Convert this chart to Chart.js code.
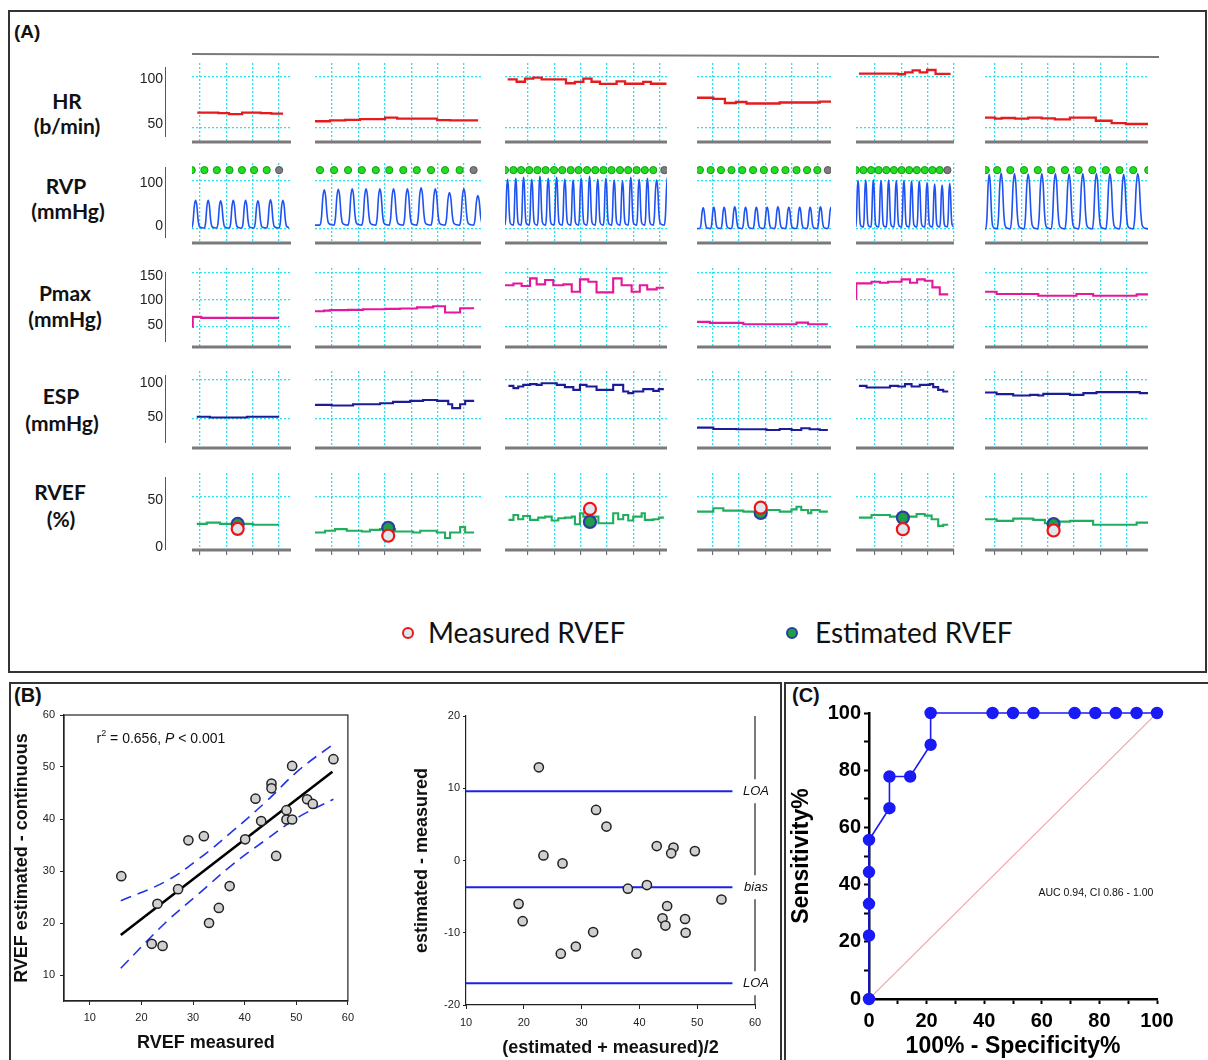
<!DOCTYPE html>
<html>
<head>
<meta charset="utf-8">
<script src="https://cdn.jsdelivr.net/npm/chart.js@4.4.1/dist/chart.umd.min.js"></script>
<style>
  body { margin: 0; background: #fff; width: 1208px; height: 1060px; position: relative; overflow: hidden; font-family: 'Liberation Sans', Arial, sans-serif; }
  canvas { position: absolute; }
  .frame { position: absolute; border: 2px solid #333; box-sizing: border-box; }
  .rowlbl { position: absolute; transform: translate(-50%, -50%); font-family: Lato, 'Open Sans', sans-serif; font-weight: bold; font-size: 21px; color: #111; white-space: nowrap; }
  .panel { position: absolute; font-weight: bold; font-size: 20px; color: #111; }
  .legtxt { position: absolute; transform: translateY(-50%); font-family: Lato, 'Open Sans', sans-serif; font-size: 28px; color: #111; white-space: nowrap; }
  .legdot { position: absolute; width: 8px; height: 8px; border-radius: 50%; border: 2.5px solid; }
</style>
</head>
<body>
<div class="frame" style="left:8px;top:10px;width:1199px;height:663px"></div>
<div class="frame" style="left:9px;top:682px;width:773px;height:400px"></div>
<div class="frame" style="left:784px;top:682px;width:426px;height:400px"></div>
<div style="position:absolute;left:192px;top:53px;width:967px;height:2px;background:#7a7a7a;transform-origin:0 0;transform:rotate(0.18deg)"></div>

<div class="panel" style="left:14px;top:21px;font-size:19px">(A)</div>
<div class="panel" style="left:14px;top:684px">(B)</div>
<div class="panel" style="left:792px;top:684px">(C)</div>

<div class="rowlbl" style="left:67px;top:100px">HR</div>
<div class="rowlbl" style="left:67px;top:125px">(b/min)</div>
<div class="rowlbl" style="left:66px;top:185px">RVP</div>
<div class="rowlbl" style="left:68px;top:210px">(mmHg)</div>
<div class="rowlbl" style="left:65px;top:292px">Pmax</div>
<div class="rowlbl" style="left:65px;top:318px">(mmHg)</div>
<div class="rowlbl" style="left:61px;top:395px">ESP</div>
<div class="rowlbl" style="left:62px;top:422px">(mmHg)</div>
<div class="rowlbl" style="left:60px;top:491px">RVEF</div>
<div class="rowlbl" style="left:61px;top:518px">(%)</div>

<div class="legdot" style="left:402px;top:627px;border-color:#ee1414;background:#dde8ef"></div>
<div class="legtxt" style="left:428px;top:632px">Measured RVEF</div>
<div class="legdot" style="left:786px;top:627px;border-color:#2b3f9e;background:#1e9e46"></div>
<div class="legtxt" style="left:815px;top:632px">Estimated RVEF</div>

<script>
// ---------- panel A : continuous monitoring traces ----------
// time axis of each column (grid every 1 unit)
const xRanges = [[-0.3, 3.45], [-0.64, 5.64], [-0.87, 5.27], [-0.6, 4.49], [-0.72, 3.0], [-0.38, 5.8]];

// HR (b/min) [time, value]
const hr1 = [[-0.1,64.5],[0.7,64],[1.1,63],[1.6,64.5],[2.3,64],[2.7,63.5],[3.15,63.5]];
const hr2 = [[-0.64,56],[-0.07,56.8],[0.5,57.3],[1.06,58],[2.01,59.5],[2.47,58.5],[3.98,57.2],[4.47,56.8],[5.53,56.8]];
const hr3 = [[-0.77,97.4],[-0.43,95],[-0.11,98],[0.2,99],[0.52,97.4],[1.44,93.5],[1.78,94.8],[2.1,98],[2.41,95],[2.73,92.8],[3.36,95.3],[3.68,93],[4.37,94.8],[4.66,93],[5.25,93]];
const hr4 = [[-0.6,79.2],[0.02,78],[0.46,74],[0.88,75],[1.28,73.5],[2.54,74.5],[4.06,75.3],[4.53,75.3]];
const hr5 = [[-0.61,103],[0.88,102.4],[1.14,104.3],[1.43,106.3],[1.7,104.3],[1.98,106.6],[2.3,102.7],[2.87,102.7]];
const hr6 = [[-0.38,59.5],[0,58.5],[0.25,59.2],[0.76,58.5],[1.26,59.5],[1.77,58.9],[2.27,57.9],[2.84,59.5],[3.82,56.5],[4.42,54.2],[4.96,53.3],[5.84,53.3]];

// RVP beats: onset times (green markers) and systolic peaks
const rvpOnsets1 = [-0.31,0.17,0.64,1.12,1.59,2.05,2.53,3.0];
const rvpPeaks1  = [60,60,59,60,60,59,61,60];
const rvpOnsets2 = [-0.45,0.08,0.61,1.13,1.66,2.17,2.7,3.21,3.75,4.28,4.83,5.36];
const rvpPeaks2  = [82,83,84,84,84,84,84,86,84,76,84,70];
const rvpOnsets3 = [-0.87,-0.55,-0.26,0.05,0.36,0.67,0.99,1.3,1.62,1.92,2.24,2.55,2.86,3.17,3.49,3.8,4.12,4.43,4.75,5.17];
const rvpPeaks3  = [104,106,108,104,110,106,108,104,102,106,110,104,106,102,100,108,104,106,102,110];
const rvpOnsets4 = [-0.49,-0.08,0.31,0.71,1.12,1.53,1.94,2.35,2.76,3.18,3.58,3.97,4.37];
const rvpPeaks4  = [44,45,45,46,45,45,45,46,45,45,45,46,45];
const rvpOnsets5 = [-0.73,-0.44,-0.15,0.14,0.43,0.72,1.01,1.3,1.59,1.89,2.18,2.46,2.75];
const rvpPeaks5  = [101,102,102,101,102,101,101,100,100,97,94,92,95];
const rvpOnsets6 = [-0.35,0.08,0.58,1.1,1.62,2.13,2.65,3.17,3.69,4.2,4.72,5.24,5.81];
const rvpPeaks6  = [114,117,116,115,116,116,115,116,116,116,114,116,116];
const rvpBase = [2, 8, 8, 1, 4, 0];
const rvpLastGray = [true, true, true, true, true, false];
// one beat of the pressure wave: [fraction of beat, fraction of pulse]
const rvpShape = [[0,0],[0.1,0.2],[0.2,0.78],[0.3,1],[0.4,0.82],[0.5,0.3],[0.6,0.06],[0.8,0.01]];

// Pmax (mmHg)
const pm1 = [[-0.29,50],[-0.27,68.5],[0.05,66.7],[3.0,66.7]];
const pm2 = [[-0.64,79],[-0.3,80],[-0.07,81],[0.6,81.5],[1.18,82.7],[2.0,83.3],[2.58,84],[3.22,86],[3.83,88],[4.28,76.5],[4.85,84.5],[5.38,84.5]];
const pm3 = [[-0.87,127],[-0.55,130],[-0.24,125.4],[0.08,139.6],[0.33,128.5],[0.65,136.5],[0.96,127],[1.34,128.5],[1.66,114.8],[1.97,137.8],[2.29,133.4],[2.6,113.7],[3.23,139.6],[3.55,127],[3.93,114.8],[4.24,127],[4.52,119.3],[4.88,122.3],[5.15,122.3]];
const pm4 = [[-0.61,59.3],[-0.11,57.4],[1.16,55],[3.18,58],[3.62,55],[4.37,55]];
const pm5 = [[-0.72,102.6],[-0.71,130.4],[-0.13,133.4],[0.19,131.5],[0.5,133.4],[1.01,137.8],[1.33,131.5],[1.6,137.8],[1.89,135.2],[2.18,123],[2.46,110],[2.78,110]];
const pm6 = [[-0.38,114.8],[0.06,110.6],[1.64,107.4],[3.09,110.6],[3.72,107.4],[5.37,110],[5.85,110]];

// ESP (mmHg)
const esp1 = [[-0.12,52],[0.38,51],[1.78,52],[3.0,52]];
const esp2 = [[-0.64,67.5],[-0.01,66.6],[0.8,68.4],[1.82,69.7],[2.31,71.4],[2.96,72.8],[3.45,74],[3.98,72.8],[4.4,68.4],[4.55,63.2],[4.85,68.4],[5.04,72.8],[5.38,72.8]];
const esp3 = [[-0.74,92.5],[-0.55,89.5],[-0.37,91.6],[-0.18,93.8],[0.08,94.7],[0.33,93.8],[0.52,96],[1.09,93.8],[1.4,90.8],[1.72,87.2],[1.97,93.8],[2.22,91.6],[2.6,87.2],[3.23,93.8],[3.61,85],[3.8,82.9],[3.99,85],[4.37,88.2],[4.75,85.9],[4.96,88.2],[5.15,88.2]];
const esp4 = [[-0.61,37.6],[0.02,35.9],[0.9,35.5],[2.04,34.6],[2.54,35.9],[2.99,34.6],[3.36,36.8],[3.68,35.5],[4.06,34.6],[4.37,34.6]];
const esp5 = [[-0.61,92.5],[-0.32,90.3],[0.57,92.5],[0.88,91.6],[1.14,94.7],[1.39,91.6],[1.7,93.8],[2.08,94.7],[2.21,90.8],[2.4,87.2],[2.59,85],[2.78,85]];
const esp6 = [[-0.38,83.7],[0.06,81.6],[0.69,79.8],[1.33,80.7],[1.64,79.8],[1.83,82],[2.84,80.7],[3.35,82.9],[3.85,84.2],[5.49,82.9],[5.85,82.9]];

// RVEF (%)
const ef1 = [[-0.12,23.2],[0.26,24.5],[0.76,23.2],[2.01,22.3],[3.0,22.3]];
const ef2 = [[-0.64,14.7],[-0.26,16.4],[0.12,18],[0.56,16.4],[1.13,15.7],[1.44,17.3],[1.82,18],[2.39,15.7],[3.07,14.7],[3.34,16.4],[3.97,14.7],[4.28,9.2],[4.47,14.7],[4.85,20],[5.04,14.7],[5.38,14.7]];
const ef3 = [[-0.74,27.2],[-0.55,32],[-0.37,27.8],[-0.18,31],[0.08,27.2],[0.39,29.4],[0.65,30.4],[0.9,26.5],[1.15,28.8],[1.4,29.4],[1.66,30.4],[1.78,22.9],[1.97,33.7],[2.1,30.4],[2.67,23.9],[3.23,33.7],[3.42,27.8],[3.61,32],[3.8,26.5],[3.99,30.4],[4.31,33.7],[4.43,27.2],[4.75,27.8],[4.96,29.4],[5.15,29.4]];
const ef4 = [[-0.61,35.3],[0.02,38.6],[0.4,36.3],[1.16,35.3],[2.04,37],[2.54,35.3],[2.99,37.6],[3.18,40.2],[3.36,37],[3.62,33.7],[3.74,37],[4.06,35.3],[4.37,35.3]];
const ef5 = [[-0.61,29.4],[-0.13,32],[0.57,30.4],[1.58,33],[1.89,31.4],[2.15,27.8],[2.4,21.3],[2.59,22.3],[2.78,22.3]];
const ef6 = [[-0.38,27.8],[0.06,26.2],[0.69,28.4],[1.45,27.2],[1.89,23.9],[2.4,25.5],[2.84,26.2],[3.72,22.3],[5.37,24.5],[5.85,24.5]];

// RVEF markers
const markerTime  = [1.43, 2.13, 2.35, 1.82, 1.06, 2.22];
const measuredEF  = [18.3, 11.5, 38, 39.2, 18, 16.7];
const estimatedEF = [23.2, 19.3, 25.2, 34, 29.4, 23];

// ---------- panel B ----------
const rvefMeasured  = [16.1,23.1,22.0,24.1,27.1,29.1,32.1,33.1,35.0,37.1,40.1,42.1,43.2,45.2,45.2,46.1,48.1,48.1,49.2,49.2,52.1,53.2,57.2];
const rvefEstimated = [29.0,23.7,16.0,15.6,26.5,35.9,36.7,20.0,22.9,27.1,36.1,43.9,39.6,46.8,45.9,32.9,41.7,39.9,50.2,39.9,43.8,42.9,51.5];
const regX = [16, 57];
const regY = [17.7, 49.1];
const ciX = [16, 24.7, 31.2, 37.6, 44.1, 50.5, 57.2];
const ciUpper = [24.3, 28, 32.4, 37.6, 43.3, 49.4, 54.4];
const ciLower = [11.3, 20.1, 25.7, 31.2, 36, 40.4, 43.8];
const bTicks = [10, 20, 30, 40, 50, 60];

const baMean = [22.6,23.4,26.7,19.1,19.8,32.5,34.3,32.0,29.0,26.4,39.5,38.0,41.3,43.0,45.9,45.5,49.6,54.2,44.8,44.0,44.5,47.9,48.0];
const baDiff = [12.9,0.7,-0.4,-6.0,-8.4,7.0,4.7,-9.9,-11.9,-12.9,-12.9,-3.9,-3.4,2.0,1.8,1.0,1.3,-5.4,-6.3,-8.0,-9.0,-8.1,-10.0];
const baLines = [9.6, -3.7, -17.0];
const baLineLabels = ['LOA', 'bias', 'LOA'];
const baLineX = [10, 56.1];
const baYTicks = [-20, -10, 0, 10, 20];

// ---------- panel C ----------
const rocX = [0,0,0,0,0,7.1,7.1,14.3,21.4,21.4,42.9,50,57.1,71.4,78.6,85.7,92.9,100];
const rocY = [0,22.2,33.3,44.4,55.6,66.7,77.8,77.8,88.9,100,100,100,100,100,100,100,100,100];
const rocTicks = [0,10,20,30,40,50,60,70,80,90,100];

// ---------- helpers ----------
const NARROW = "'Liberation Sans Narrow', 'Liberation Sans', sans-serif";
const ARIAL = "'Liberation Sans', Arial, sans-serif";
const UNIT_PX = 26.4;
const colLeft = [192, 315, 505, 697, 856, 985];
const GRID_CYAN = '#22e4f2';
const RVP_DOT_Y = 123;

function addCanvas(left, top, w, h) {
  const c = document.createElement('canvas');
  c.width = Math.round(w); c.height = Math.round(h);
  c.style.left = Math.round(left) + 'px'; c.style.top = Math.round(top) + 'px';
  document.body.appendChild(c);
  return c;
}
const pairs = arr => arr.map(([x, y]) => ({x, y}));
const fixedTicks = vals => s => { s.ticks = vals.map(v => ({value: v})); };

function buildWave(onsets, peaks, base, xmin) {
  const pts = [];
  if (xmin < onsets[0]) pts.push({x: xmin, y: base});
  onsets.forEach((t, i) => {
    const p = i < onsets.length - 1 ? onsets[i + 1] - t : t - onsets[i - 1];
    rvpShape.forEach(([f, a]) => pts.push({x: t + f * p, y: base + a * (peaks[i] - base)}));
  });
  return pts;
}

const common = {
  responsive: false, animation: false, events: [],
  plugins: { legend: { display: false }, tooltip: { enabled: false } }
};

const baseLine = {
  id: 'baseLine',
  afterDraw(chart) {
    const { ctx, chartArea: a } = chart;
    ctx.save();
    ctx.strokeStyle = '#7a7a7a'; ctx.lineWidth = 3;
    ctx.beginPath(); ctx.moveTo(a.left, a.bottom + 1); ctx.lineTo(a.right, a.bottom + 1); ctx.stroke();
    ctx.restore();
  }
};

const rows = [
  { key: 'HR', top: 63, bottom: 141, range: [36.5, 113.5], grid: [50, 100], labels: [50, 100], color: '#e41b1f', width: 2.3, series: [hr1, hr2, hr3, hr4, hr5, hr6] },
  { key: 'RVP', top: 163, bottom: 242, range: [-27.4, 137.9], grid: [0, 100], labels: [0, 100], color: '#1f52f2', width: 1.6 },
  { key: 'Pmax', top: 268, bottom: 346, range: [14.8, 158.7], grid: [50, 100, 150], labels: [50, 100, 150], color: '#e3189a', width: 2.1, series: [pm1, pm2, pm3, pm4, pm5, pm6] },
  { key: 'ESP', top: 371, bottom: 447, range: [12.2, 112], grid: [50, 100], labels: [50, 100], color: '#1c1c98', width: 2.1, series: [esp1, esp2, esp3, esp4, esp5, esp6] },
  { key: 'RVEF', top: 473, bottom: 549, range: [-1.6, 73.5], grid: [50], labels: [0, 50], color: '#1fae5e', width: 2.1, series: [ef1, ef2, ef3, ef4, ef5, ef6], ticksBelow: true }
];
const rvpOnsets = [rvpOnsets1, rvpOnsets2, rvpOnsets3, rvpOnsets4, rvpOnsets5, rvpOnsets6];
const rvpPeaks = [rvpPeaks1, rvpPeaks2, rvpPeaks3, rvpPeaks4, rvpPeaks5, rvpPeaks6];

rows.forEach(row => {
  const extra = row.ticksBelow ? 6 : 0;
  const h = row.bottom - row.top + 12 + extra;

  // left axis of the row
  new Chart(addCanvas(120, row.top - 6, 50, h), {
    type: 'line',
    data: { datasets: [] },
    options: {
      ...common,
      layout: { autoPadding: false, padding: { top: 6, bottom: 6 + extra, left: 0, right: 0 } },
      scales: {
        x: { display: false },
        y: {
          min: row.range[0], max: row.range[1],
          afterBuildTicks: fixedTicks(row.labels),
          afterFit: s => { s.width = 45; },
          ticks: { font: { family: NARROW, size: 14 }, color: '#222', padding: 2 },
          grid: { display: false, drawTicks: false },
          border: { display: true, color: '#555', width: 1 }
        }
      }
    }
  });

  xRanges.forEach((xr, c) => {
    const w = Math.round((xr[1] - xr[0]) * UNIT_PX);
    const datasets = [];
    if (row.key === 'RVEF') {
      datasets.push({ data: [{ x: markerTime[c], y: measuredEF[c] }], showLine: false, pointRadius: 6, pointBorderWidth: 2.2, pointBackgroundColor: '#dde8ef', pointBorderColor: '#ee1414' });
      datasets.push({ data: [{ x: markerTime[c], y: estimatedEF[c] }], showLine: false, pointRadius: 6, pointBorderWidth: 2.2, pointBackgroundColor: '#1e9e46', pointBorderColor: '#2b3f9e' });
    }
    if (row.key === 'RVP') {
      const n = rvpOnsets[c].length;
      const gray = i => rvpLastGray[c] && i === n - 1;
      datasets.push({
        data: rvpOnsets[c].map(t => ({ x: t, y: RVP_DOT_Y })), showLine: false, pointRadius: 3.6, pointBorderWidth: 1,
        pointBackgroundColor: rvpOnsets[c].map((_, i) => gray(i) ? '#7d7d7d' : '#22dd22'),
        pointBorderColor: rvpOnsets[c].map((_, i) => gray(i) ? '#555' : '#139a13')
      });
      datasets.push({ data: buildWave(rvpOnsets[c], rvpPeaks[c], rvpBase[c], xr[0]), borderColor: row.color, borderWidth: row.width, pointRadius: 0, cubicInterpolationMode: 'monotone' });
    } else {
      datasets.push({ data: pairs(row.series[c]), borderColor: row.color, borderWidth: row.width, pointRadius: 0, stepped: true });
    }

    new Chart(addCanvas(colLeft[c] - 6, row.top - 6, w + 12, h), {
      type: 'line',
      data: { datasets },
      options: {
        ...common,
        layout: { autoPadding: false, padding: 6 },
        scales: {
          x: {
            type: 'linear', min: xr[0], max: xr[1],
            afterBuildTicks: s => { const t = []; for (let v = Math.ceil(s.min); v <= Math.floor(s.max); v++) t.push({ value: v }); s.ticks = t; },
            ticks: { display: false },
            grid: { color: GRID_CYAN, lineWidth: 1.3, drawTicks: !!row.ticksBelow, tickLength: 6, tickColor: '#555', tickWidth: 1 },
            border: { display: false, dash: [2, 2] }
          },
          y: {
            min: row.range[0], max: row.range[1],
            afterBuildTicks: fixedTicks(row.grid),
            ticks: { display: false },
            grid: { color: GRID_CYAN, lineWidth: 1.3, drawTicks: false },
            border: { display: false, dash: [2, 2] }
          }
        }
      },
      plugins: [baseLine]
    });
  });
});

// ---------- panel B : regression ----------
const boxFrame = {
  id: 'boxFrame',
  afterDraw(chart) {
    const { ctx, chartArea: a } = chart;
    ctx.save(); ctx.strokeStyle = '#222'; ctx.lineWidth = 1.2;
    ctx.strokeRect(a.left, a.top, a.right - a.left, a.bottom - a.top);
    ctx.restore();
  }
};
const r2Text = {
  id: 'r2Text',
  afterDraw(chart) {
    const { ctx, scales } = chart;
    let x = scales.x.getPixelForValue(11.3);
    const y = scales.y.getPixelForValue(55.6) + 5;
    ctx.save(); ctx.fillStyle = '#111'; ctx.textBaseline = 'alphabetic';
    const put = (t, font, dy = 0) => { ctx.font = font; ctx.fillText(t, x, y + dy); x += ctx.measureText(t).width; };
    put('r', '14px ' + ARIAL);
    put('2', '9px ' + ARIAL, -7);
    put(' = 0.656, ', '14px ' + ARIAL);
    put('P', 'italic 14px ' + ARIAL);
    put(' < 0.001', '14px ' + ARIAL);
    ctx.restore();
  }
};

const axisB = (vals, title, size) => ({
  type: 'linear',
  afterBuildTicks: fixedTicks(vals),
  afterFit: size,
  ticks: { font: { family: ARIAL, size: 11 }, color: '#222', padding: 5 },
  grid: { drawOnChartArea: false, tickLength: 4, color: '#222' },
  border: { color: '#222', width: 1.2 },
  title: { display: true, text: title, color: '#111', font: { family: ARIAL, size: 18, weight: 'bold' } }
});

const bx = axisB(bTicks, 'RVEF measured', s => { s.height = 59; });
bx.min = 5; bx.max = 60; bx.ticks.padding = 6; bx.title.padding = { top: 0, bottom: 6 };
const by = axisB(bTicks, 'RVEF estimated - continuous', s => { s.width = 56; });
by.min = 5; by.max = 60; by.title.padding = { top: 3, bottom: 0 };

new Chart(addCanvas(8, 700, 352, 360), {
  type: 'scatter',
  data: {
    datasets: [
      { data: rvefMeasured.map((x, i) => ({ x, y: rvefEstimated[i] })), pointRadius: 4.6, pointBorderWidth: 1.5, pointBackgroundColor: '#d0d0d0', pointBorderColor: '#222' },
      { data: regX.map((x, i) => ({ x, y: regY[i] })), showLine: true, borderColor: '#000', borderWidth: 2.6, pointRadius: 0 },
      { data: ciX.map((x, i) => ({ x, y: ciUpper[i] })), showLine: true, borderColor: '#2233e6', borderWidth: 1.6, borderDash: [11, 7], pointRadius: 0, tension: 0.4 },
      { data: ciX.map((x, i) => ({ x, y: ciLower[i] })), showLine: true, borderColor: '#2233e6', borderWidth: 1.6, borderDash: [11, 7], pointRadius: 0, tension: 0.4 }
    ]
  },
  options: {
    ...common,
    layout: { autoPadding: false, padding: { left: 0, top: 15, right: 11, bottom: 0 } },
    scales: { x: bx, y: by }
  },
  plugins: [boxFrame, r2Text]
});

// ---------- panel B : Bland-Altman ----------
const baLabels = {
  id: 'baLabels',
  afterDraw(chart) {
    const { ctx, chartArea: a, scales } = chart;
    const ys = baLines.map(v => scales.y.getPixelForValue(v));
    ctx.save();
    ctx.strokeStyle = '#222'; ctx.lineWidth = 1.2;
    let from = a.top;
    ys.forEach(y => {
      ctx.beginPath(); ctx.moveTo(a.right, from); ctx.lineTo(a.right, y - 12); ctx.stroke();
      from = y + 12;
    });
    ctx.beginPath(); ctx.moveTo(a.right, from); ctx.lineTo(a.right, a.bottom); ctx.stroke();
    ctx.fillStyle = '#111'; ctx.font = 'italic 13px ' + ARIAL;
    ctx.textAlign = 'center'; ctx.textBaseline = 'middle';
    ys.forEach((y, i) => ctx.fillText(baLineLabels[i], a.right + 1, y));
    ctx.restore();
  }
};

const ax2 = axisB(bTicks, '(estimated + measured)/2', s => { s.height = 55; });
ax2.min = 10; ax2.max = 60; ax2.ticks.padding = 7; ax2.title.padding = { top: 0, bottom: 1 };
const ay2 = axisB(baYTicks, 'estimated - measured', s => { s.width = 61; });
ay2.min = -20; ay2.max = 20; ay2.grid.tickLength = 3; ay2.ticks.padding = 3; ay2.title.padding = { top: 6, bottom: 0 };

new Chart(addCanvas(405, 700, 373, 360), {
  type: 'scatter',
  data: {
    datasets: [
      { data: baMean.map((x, i) => ({ x, y: baDiff[i] })), pointRadius: 4.6, pointBorderWidth: 1.5, pointBackgroundColor: '#d0d0d0', pointBorderColor: '#222' },
      ...baLines.map(v => ({ data: baLineX.map(x => ({ x, y: v })), showLine: true, borderColor: '#1e1ef0', borderWidth: 2, pointRadius: 0 }))
    ]
  },
  options: {
    ...common,
    layout: { autoPadding: false, padding: { left: 0, top: 16, right: 23, bottom: 0 } },
    scales: { x: ax2, y: ay2 }
  },
  plugins: [baLabels]
});

// ---------- panel C : ROC ----------
const aucText = {
  id: 'aucText',
  afterDraw(chart) {
    const { ctx, scales } = chart;
    ctx.save(); ctx.fillStyle = '#111';
    ctx.font = '10.5px ' + NARROW; ctx.textAlign = 'center'; ctx.textBaseline = 'middle';
    ctx.fillText('AUC 0.94, CI 0.86 - 1.00', scales.x.getPixelForValue(78.8), scales.y.getPixelForValue(37));
    ctx.restore();
  }
};
const rocAxis = (title, fit, pad) => ({
  type: 'linear', min: 0, max: 100,
  afterBuildTicks: fixedTicks(rocTicks),
  afterFit: fit,
  ticks: { font: { family: ARIAL, size: 20, weight: 'bold' }, color: '#000', padding: pad, autoSkip: false, maxRotation: 0, minRotation: 0, callback: v => (v % 20 === 0 ? v : '') },
  grid: { drawOnChartArea: false, tickLength: 5, tickWidth: 2, tickColor: '#000' },
  border: { color: '#000', width: 2.5 },
  title: { display: true, text: title, color: '#000', font: { family: ARIAL, size: 23, weight: 'bold' }, padding: { top: 1, bottom: 0 } }
});

new Chart(addCanvas(787, 690, 418, 370), {
  type: 'scatter',
  data: {
    datasets: [
      { data: rocX.map((x, i) => ({ x, y: rocY[i] })), showLine: true, borderColor: '#1a1af5', borderWidth: 1.6, pointRadius: 5.4, pointBackgroundColor: '#1a1af5', pointBorderColor: '#1a1af5', clip: false },
      { data: [{ x: 0, y: 0 }, { x: 100, y: 100 }], showLine: true, borderColor: '#f2a3a3', borderWidth: 1.2, pointRadius: 0 }
    ]
  },
  options: {
    ...common,
    layout: { autoPadding: false, padding: { left: 0, top: 23, right: 48, bottom: 0 } },
    scales: {
      x: rocAxis('100% - Specificity%', s => { s.height = 61; }, 5),
      y: rocAxis('Sensitivity%', s => { s.width = 82; }, 3)
    }
  },
  plugins: [aucText]
});
</script>
</body>
</html>
